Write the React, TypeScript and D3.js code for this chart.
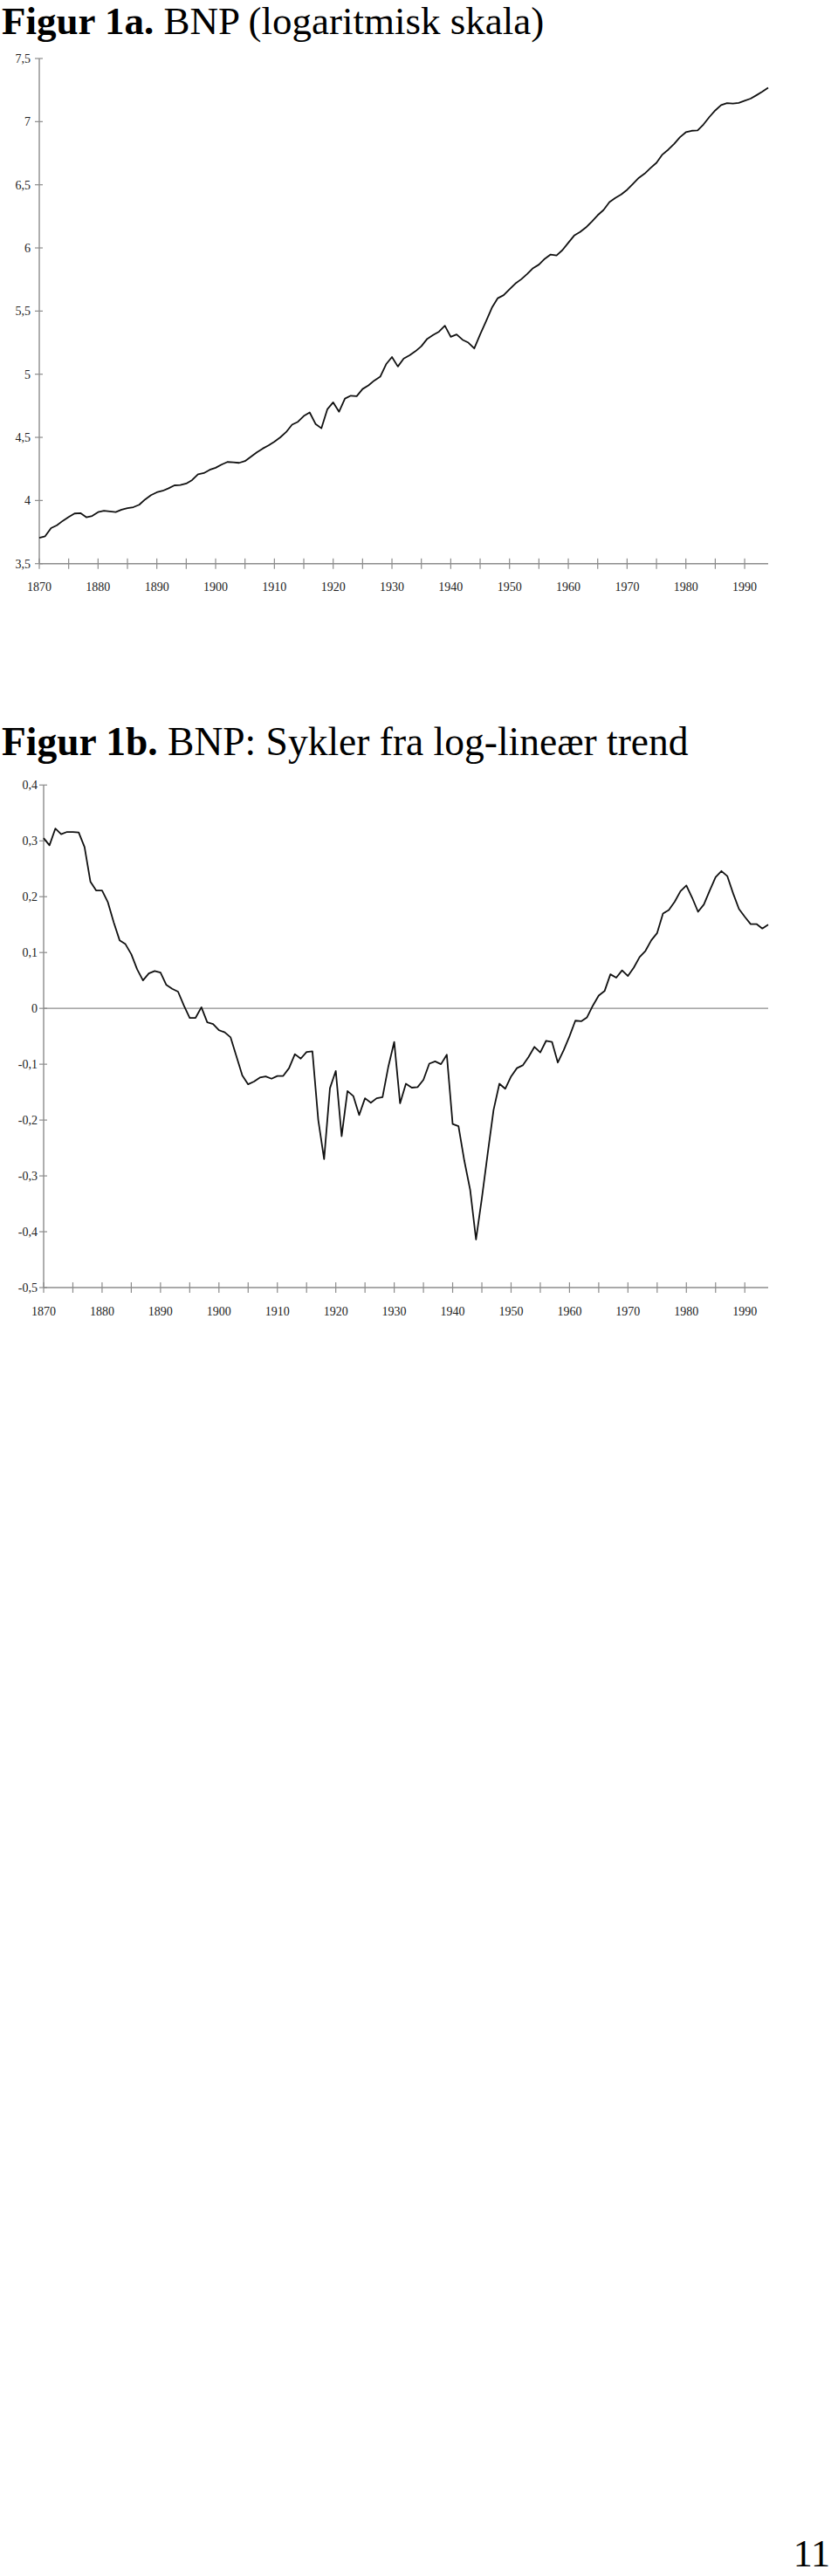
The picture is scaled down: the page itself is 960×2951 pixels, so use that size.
import React from "react";
import * as d3 from "d3";

const years: number[] = d3.range(1870, 1995);

const bnpLog: number[] = [
  3.705, 3.717, 3.781, 3.804, 3.839, 3.869, 3.897, 3.9, 3.867, 3.878,
  3.908, 3.918, 3.913, 3.908, 3.927, 3.94, 3.947, 3.966, 4.008, 4.042,
  4.065, 4.077, 4.097, 4.12, 4.122, 4.134, 4.162, 4.208, 4.217, 4.243,
  4.259, 4.284, 4.305, 4.302, 4.298, 4.312, 4.346, 4.381, 4.411, 4.436,
  4.466, 4.5, 4.542, 4.6, 4.623, 4.669, 4.697, 4.606, 4.572, 4.722,
  4.777, 4.703, 4.807, 4.83, 4.826, 4.883, 4.911, 4.95, 4.98, 5.079,
  5.136, 5.061, 5.124, 5.15, 5.182, 5.222, 5.28, 5.31, 5.337, 5.384,
  5.296, 5.315, 5.273, 5.25, 5.204, 5.315, 5.418, 5.526, 5.602, 5.626,
  5.672, 5.718, 5.752, 5.794, 5.84, 5.868, 5.914, 5.948, 5.941, 5.983,
  6.041, 6.098, 6.126, 6.162, 6.209, 6.259, 6.301, 6.363, 6.396, 6.423,
  6.46, 6.508, 6.555, 6.589, 6.633, 6.674, 6.739, 6.778, 6.824, 6.877,
  6.916, 6.928, 6.93, 6.978, 7.037, 7.089, 7.131, 7.147, 7.143, 7.149,
  7.165, 7.182, 7.209, 7.237, 7.269,
];

const bnpCycle: number[] = [
  0.305, 0.292, 0.322, 0.312, 0.316, 0.316, 0.315, 0.289, 0.227, 0.211,
  0.211, 0.19, 0.154, 0.122, 0.115, 0.097, 0.07, 0.05, 0.0625, 0.067,
  0.064, 0.042, 0.035, 0.03, 0.005, -0.017, -0.017, 0.002, -0.025, -0.028,
  -0.039, -0.043, -0.052, -0.086, -0.12, -0.136, -0.131, -0.124, -0.122, -0.126,
  -0.121, -0.121, -0.107, -0.082, -0.09, -0.078, -0.077, -0.2, -0.27, -0.143,
  -0.112, -0.229, -0.148, -0.157, -0.191, -0.161, -0.169, -0.161, -0.159, -0.104,
  -0.06, -0.17, -0.135, -0.142, -0.141, -0.128, -0.099, -0.095, -0.1, -0.083,
  -0.207, -0.211, -0.273, -0.325, -0.414, -0.34, -0.26, -0.182, -0.135, -0.144,
  -0.122, -0.107, -0.102, -0.087, -0.069, -0.079, -0.058, -0.06, -0.097, -0.075,
  -0.05, -0.022, -0.023, -0.016, 0.005, 0.023, 0.031, 0.061, 0.055, 0.068,
  0.058, 0.073, 0.092, 0.103, 0.122, 0.135, 0.17, 0.176, 0.191, 0.21,
  0.22, 0.198, 0.173, 0.186, 0.211, 0.235, 0.246, 0.237, 0.206, 0.178,
  0.164, 0.151, 0.151, 0.143, 0.15,
];

const yTicksA: number[] = [3.5, 4, 4.5, 5, 5.5, 6, 6.5, 7, 7.5];
const yTicksB: number[] = [-0.5, -0.4, -0.3, -0.2, -0.1, 0, 0.1, 0.2, 0.3, 0.4];
const xMinorTicks: number[] = d3.range(1870, 1995, 5);
const xLabelTicks: number[] = d3.range(1870, 1991, 10);

const titleA = { bold: "Figur 1a.", rest: " BNP (logaritmisk skala)" };
const titleB = { bold: "Figur 1b.", rest: " BNP: Sykler fra log-lineær trend" };
const pageNumber = "11";

const FONT = "'Liberation Serif', 'Times New Roman', serif";
const AXIS = "#8c8c8c";

const fmt = (v: number) => {
  const s = d3.format("~g")(Math.round(v * 100) / 100);
  return s.replace(".", ",").replace("−", "-");
};

type PanelProps = {
  values: number[];
  yTicks: number[];
  yDomain: [number, number];
  yRange: [number, number];
  xRange: [number, number];
  labelX: number;
  zeroLine?: boolean;
};

function Panel({ values, yTicks, yDomain, yRange, xRange, labelX, zeroLine }: PanelProps) {
  const x = d3.scaleLinear().domain([1870, 1994]).range(xRange);
  const y = d3.scaleLinear().domain(yDomain).range(yRange);
  const line = d3
    .line<number>()
    .x((_, i) => x(years[i]))
    .y((d) => y(d));
  const x0 = xRange[0];
  const yBottom = y(yDomain[0]);
  const yTop = y(yDomain[1]);
  return (
    <g>
      {zeroLine && (
        <line x1={x0} x2={xRange[1]} y1={y(0)} y2={y(0)} stroke={AXIS} strokeWidth={1.3} />
      )}
      <line x1={x0} x2={x0} y1={yTop} y2={yBottom} stroke={AXIS} strokeWidth={1.4} />
      <line x1={x0} x2={xRange[1]} y1={yBottom} y2={yBottom} stroke={AXIS} strokeWidth={1.4} />
      {yTicks.map((t) => (
        <g key={"y" + t}>
          <line x1={x0 - 5} x2={x0 + 4} y1={y(t)} y2={y(t)} stroke={AXIS} strokeWidth={1.2} />
          <text
            x={labelX}
            y={y(t)}
            dy="0.35em"
            textAnchor="end"
            fontFamily={FONT}
            fontSize={14}
            fill="#222"
          >
            {fmt(t)}
          </text>
        </g>
      ))}
      {xMinorTicks.map((t) => (
        <line
          key={"xt" + t}
          x1={x(t)}
          x2={x(t)}
          y1={yBottom - 6}
          y2={yBottom + 6}
          stroke={AXIS}
          strokeWidth={1.2}
        />
      ))}
      {xLabelTicks.map((t) => (
        <text
          key={"xl" + t}
          x={x(t)}
          y={yBottom + 31.5}
          textAnchor="middle"
          fontFamily={FONT}
          fontSize={14}
          fill="#222"
        >
          {t}
        </text>
      ))}
      <path d={line(values) || ""} fill="none" stroke="#111" strokeWidth={1.8} strokeLinejoin="round" />
    </g>
  );
}

export default function App() {
  return (
    <svg
      width={960}
      height={2951}
      style={{ position: "absolute", left: 0, top: 0, background: "#fff" }}
    >
      <rect x={0} y={0} width={960} height={2951} fill="#fff" />
      <text x={2} y={39} fontFamily={FONT} fontSize={45} fill="#000">
        <tspan fontWeight="bold">{titleA.bold}</tspan>
        <tspan>{titleA.rest}</tspan>
      </text>
      <Panel
        values={bnpLog}
        yTicks={yTicksA}
        yDomain={[3.5, 7.5]}
        yRange={[645.7, 67]}
        xRange={[45, 880]}
        labelX={35}
      />
      <text x={2} y={865} fontFamily={FONT} fontSize={45.5} fill="#000">
        <tspan fontWeight="bold">{titleB.bold}</tspan>
        <tspan>{titleB.rest}</tspan>
      </text>
      <Panel
        values={bnpCycle}
        yTicks={yTicksB}
        yDomain={[-0.5, 0.4]}
        yRange={[1475, 899.3]}
        xRange={[50, 880]}
        labelX={43}
        zeroLine
      />
      <text x={951} y={2940} textAnchor="end" fontFamily={FONT} fontSize={44} fill="#000">
        {pageNumber}
      </text>
    </svg>
  );
}
